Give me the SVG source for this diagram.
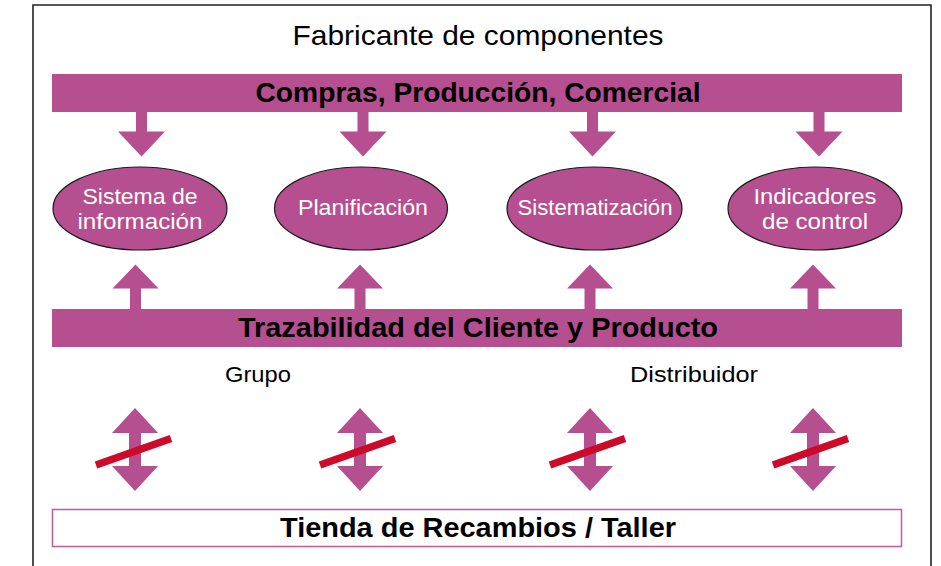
<svg xmlns="http://www.w3.org/2000/svg" width="941" height="566" viewBox="0 0 941 566">
<style>
.band{fill:#b54f8f}
.arr{fill:#b54f8f}
.ell{fill:#b54f8f;stroke:#1a1a1a;stroke-width:1.2}
.etxt{font-family:"Liberation Sans",Arial,sans-serif;font-size:22px;fill:#ffffff;text-anchor:middle}
.btxt{font-family:"Liberation Sans",Arial,sans-serif;font-size:28px;font-weight:bold;fill:#000;text-anchor:middle}
.rtxt{font-family:"Liberation Sans",Arial,sans-serif;fill:#000;text-anchor:middle}
.cross{stroke:#cc0a2a;stroke-width:7.5;stroke-linecap:butt}
</style>
<defs>
<path id="down" d="M-5.5,0 H5.5 V20 H23.5 L0,45 L-23.5,20 H-5.5 Z"/>
<path id="up" d="M-5.5,0 H5.5 V-21 H23 L0,-45 L-23,-21 H-5.5 Z"/>
<path id="dbl" d="M0,0 L23,25 H6 V58 H23 L0,83 L-23,58 H-6 V25 H-23 Z"/>
</defs>
<path d="M33,566 V5 H931 V566" fill="none" stroke="#222" stroke-width="1.6"/>
<text class="rtxt" x="478" y="45" font-size="28" textLength="371" lengthAdjust="spacingAndGlyphs">Fabricante de componentes</text>
<g id="band-top">
<rect class="band" x="52" y="74" width="850" height="38"/>
<text class="btxt" x="478" y="102" textLength="445" lengthAdjust="spacingAndGlyphs">Compras, Producción, Comercial</text>
</g>
<g id="sistema-informacion">
<ellipse class="ell" cx="140" cy="208.5" rx="87" ry="41.5"/>
<text class="etxt" x="140" y="203.5" textLength="115" lengthAdjust="spacingAndGlyphs">Sistema de</text>
<text class="etxt" x="140" y="228.5" textLength="125" lengthAdjust="spacingAndGlyphs">información</text>
</g>
<g id="planificacion">
<ellipse class="ell" cx="361" cy="208.5" rx="86.5" ry="41.5"/>
<text class="etxt" x="363" y="215" textLength="130" lengthAdjust="spacingAndGlyphs">Planificación</text>
</g>
<g id="sistematizacion">
<ellipse class="ell" cx="594.5" cy="208.5" rx="87.5" ry="41.5"/>
<text class="etxt" x="595" y="215" textLength="155" lengthAdjust="spacingAndGlyphs">Sistematización</text>
</g>
<g id="indicadores-control">
<ellipse class="ell" cx="815" cy="208.5" rx="87" ry="41.5"/>
<text class="etxt" x="815" y="203.5" textLength="123" lengthAdjust="spacingAndGlyphs">Indicadores</text>
<text class="etxt" x="815" y="228.5" textLength="106" lengthAdjust="spacingAndGlyphs">de control</text>
</g>
<g id="band-trazabilidad">
<rect class="band" x="52" y="309" width="850" height="38"/>
<text class="btxt" x="478" y="337" textLength="480" lengthAdjust="spacingAndGlyphs">Trazabilidad del Cliente y Producto</text>
</g>
<g id="label-grupo"><text class="rtxt" x="258" y="382" font-size="22" textLength="66" lengthAdjust="spacingAndGlyphs">Grupo</text></g>
<g id="label-distribuidor"><text class="rtxt" x="694" y="382" font-size="22" textLength="128" lengthAdjust="spacingAndGlyphs">Distribuidor</text></g>
<g id="tienda-taller">
<rect x="52.5" y="509.5" width="849" height="37" fill="#fff" stroke="#c25a9c" stroke-width="1.5"/>
<text class="btxt" x="478" y="537" textLength="396" lengthAdjust="spacingAndGlyphs">Tienda de Recambios / Taller</text>
</g>
<g id="connectors">
<use href="#down" class="arr" x="141.5" y="111.5"/>
<use href="#down" class="arr" x="363" y="111.5"/>
<use href="#down" class="arr" x="592.5" y="111.5"/>
<use href="#down" class="arr" x="819" y="111.5"/>
<use href="#up" class="arr" x="135.5" y="309.5"/>
<use href="#up" class="arr" x="360" y="309.5"/>
<use href="#up" class="arr" x="590" y="309.5"/>
<use href="#up" class="arr" x="813" y="309.5"/>
<use href="#dbl" class="arr" x="135" y="408"/>
<use href="#dbl" class="arr" x="360" y="408"/>
<use href="#dbl" class="arr" x="590" y="408"/>
<use href="#dbl" class="arr" x="813" y="408"/>
<line class="cross" x1="96" y1="465" x2="171" y2="438.5"/>
<line class="cross" x1="320" y1="465" x2="395" y2="438.5"/>
<line class="cross" x1="550" y1="465" x2="625" y2="438.5"/>
<line class="cross" x1="773" y1="465" x2="848" y2="438.5"/>
</g>
</svg>
